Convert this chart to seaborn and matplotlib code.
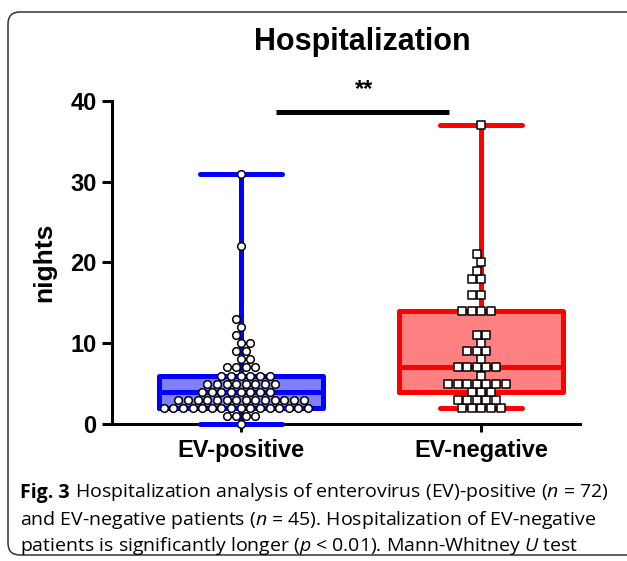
import numpy as np
import pandas as pd
import matplotlib
matplotlib.use("Agg")
import matplotlib.pyplot as plt
import matplotlib.patches as mpatches
import seaborn as sns

# ----------------------------------------
# Data
# ----------------------------------------
cats = ["EV-positive", "EV-negative"]

pos_nights = [0, 1, 2, 3, 4, 5, 6, 7, 8, 9, 10, 11, 12, 13, 22, 31]
pos_counts = [1, 4, 16, 14, 8, 8, 6, 4, 2, 2, 2, 1, 1, 1, 1, 1]

neg_nights = [2, 3, 4, 5, 6, 7, 8, 9, 10, 11, 14, 16, 18, 19, 20, 21, 37]
neg_counts = [5, 5, 3, 7, 1, 5, 1, 3, 1, 2, 4, 2, 2, 1, 1, 1, 1]

y_ticks = [0, 10, 20, 30, 40]

fill_colors = {"EV-positive": "#8080ff", "EV-negative": "#ff8080"}
line_colors = {"EV-positive": "#0000ff", "EV-negative": "#ff0000"}
markers = {"EV-positive": "o", "EV-negative": "s"}

df = pd.concat([
    pd.DataFrame({"group": "EV-positive", "nights": np.repeat(pos_nights, pos_counts)}),
    pd.DataFrame({"group": "EV-negative", "nights": np.repeat(neg_nights, neg_counts)}),
], ignore_index=True)

# ----------------------------------------
# Figure
# ----------------------------------------
sns.set_style("white")
plt.rcParams["font.family"] = ["Liberation Sans", "DejaVu Sans"]
for k in ["text.color", "axes.labelcolor", "xtick.color", "ytick.color"]:
    plt.rcParams[k] = "black"
plt.rcParams["mathtext.fontset"] = "custom"
plt.rcParams["mathtext.rm"] = "Open Sans"
plt.rcParams["mathtext.it"] = "Open Sans:italic"
plt.rcParams["mathtext.bf"] = "Open Sans:bold"

fig = plt.figure(figsize=(6.27, 5.61), dpi=100)
ax = fig.add_axes([0.1786, 0.2442, 0.7464, 0.5758])

box_w = 0.683
for g in cats:
    sub = df[df["group"] == g]
    # filled box underneath
    sns.boxplot(data=sub, x="group", y="nights", order=cats, whis=(0, 100),
                width=box_w, color=fill_colors[g], saturation=1,
                linewidth=0, linecolor=fill_colors[g], ax=ax)
    # points
    sns.swarmplot(data=sub, x="group", y="nights", order=cats, size=5.5,
                  marker=markers[g], color="white", edgecolor="black",
                  linewidth=1.1, ax=ax)
    # box outline on top
    sns.boxplot(data=sub, x="group", y="nights", order=cats, whis=(0, 100),
                width=box_w, color=line_colors[g], saturation=1, fill=False,
                linewidth=3.6, ax=ax)

for c in ax.collections:
    c.set_clip_on(False)
for ln in ax.lines:
    ln.set_clip_on(False)
for p in ax.patches:
    p.set_clip_on(False)

ax.set_xlim(-0.535, 1.41)
ax.set_ylim(0, 40)
ax.set_yticks(y_ticks)
ax.set_xlabel("")
ax.set_ylabel("nights", fontsize=19, fontweight="bold", labelpad=10)

for s in ["top", "right"]:
    ax.spines[s].set_visible(False)
for s in ["left", "bottom"]:
    ax.spines[s].set_linewidth(2.2)
    ax.spines[s].set_color("black")
    ax.spines[s].set_zorder(0.5)

ax.tick_params(axis="y", length=7, width=2.2, labelsize=17, pad=4, left=True)
ax.tick_params(axis="x", length=6, width=2.2, labelsize=17, pad=5, bottom=True)
for lab in ax.get_xticklabels() + ax.get_yticklabels():
    lab.set_fontweight("bold")

# significance bar
ax.plot([0.148, 0.864], [38.6, 38.6], color="black", lw=3.6, clip_on=False,
        solid_capstyle="butt")
ax.text(0.514, 40.0, "**", ha="center", va="bottom", fontsize=17,
        fontweight="bold", clip_on=False)

fig.text(0.578, 1 - 42 / 561, "Hospitalization", ha="center", va="center",
         fontsize=22, fontweight="bold")

# rounded frame of the figure panel
frame = mpatches.FancyBboxPatch((0.08, 0.06), 6.6, 5.43,
                                boxstyle="round,pad=0,rounding_size=0.12",
                                transform=fig.dpi_scale_trans, fill=False,
                                edgecolor="#333333", lw=1.1)
fig.add_artist(frame)

# caption
cap_kw = dict(fontsize=14, family="Open Sans")
t1 = fig.text(0.032, 1 - 493 / 561, "Fig. 3", fontweight="bold",
              ha="left", va="center", **cap_kw)
ax.annotate(r" Hospitalization analysis of enterovirus (EV)-positive ($\it{n}$ = 72)",
            xy=(1, 0), xycoords=t1, ha="left", va="bottom",
            annotation_clip=False, **cap_kw)
fig.text(0.032, 1 - 520 / 561,
         r"and EV-negative patients ($\it{n}$ = 45). Hospitalization of EV-negative",
         ha="left", va="center", **cap_kw)
fig.text(0.032, 1 - 546 / 561,
         r"patients is significantly longer ($\it{p}$ < 0.01). Mann-Whitney $\it{U}$ test",
         ha="left", va="center", **cap_kw)

fig.savefig("out.png", dpi=100)
